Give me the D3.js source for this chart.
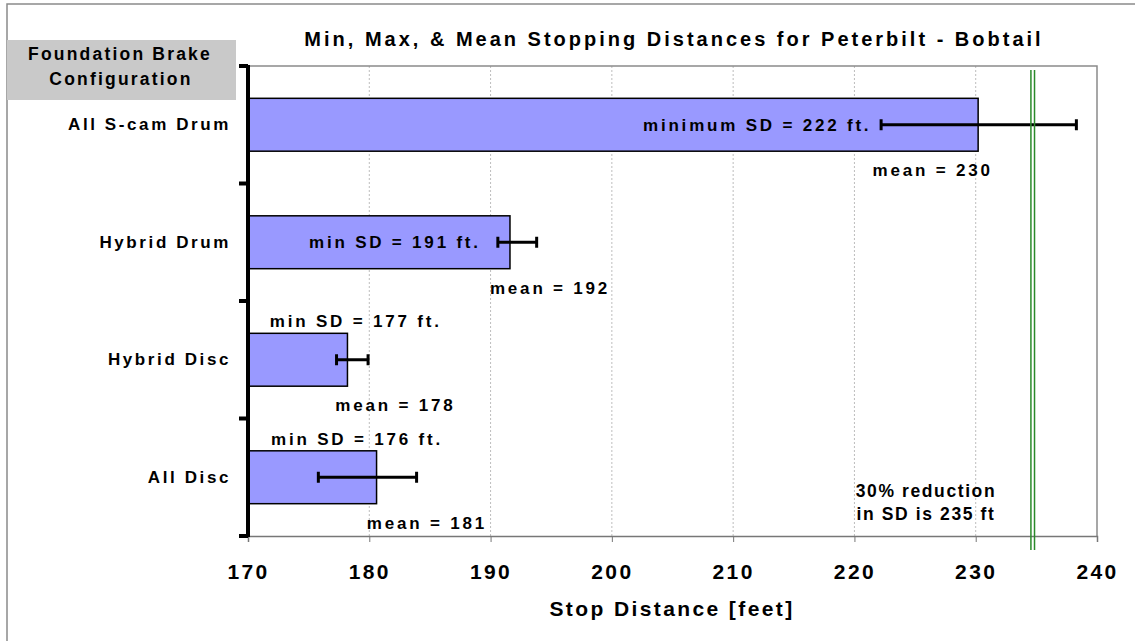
<!DOCTYPE html>
<html>
<head>
<meta charset="utf-8">
<script src="https://cdn.jsdelivr.net/npm/d3@7"></script>
<style>
  html, body { margin: 0; padding: 0; background: #fff; }
  svg { display: block; }
  text { font-family: "Liberation Sans", Arial, sans-serif; font-weight: bold; fill: #000; }
</style>
</head>
<body>
<svg id="chart" width="1135" height="641"></svg>
<script>
// ---- data ----
const categories = ["All S-cam Drum", "Hybrid Drum", "Hybrid Disc", "All Disc"];
const meanValues = [230.2, 191.6, 178.2, 180.6];
const minValues  = [222.2, 190.6, 177.3, 175.8];
const maxValues  = [238.3, 193.8, 179.9, 183.9];
const minLabels  = ["minimum SD = 222 ft.", "min SD = 191 ft.", "min SD = 177 ft.", "min SD = 176 ft."];
const meanLabels = ["mean = 230", "mean = 192", "mean = 178", "mean = 181"];
const xTicks = [170, 180, 190, 200, 210, 220, 230, 240];
const targetValue = 234.7;
const targetLabel = ["30% reduction", "in SD is 235 ft"];
const title = "Min, Max, & Mean Stopping Distances for Peterbilt - Bobtail";
const xTitle = "Stop Distance [feet]";
const yTitle = ["Foundation Brake", "Configuration"];

// label placement (annotation anchors in feet, and where relative to the bar)
const minLabelAt   = [221.4, 189.2, 171.8, 171.9];
const minLabelMode = ["inside-end", "inside-end", "above-start", "above-start"];
const meanLabelAt  = [221.5, 189.95, 177.2, 179.8];

// ---- layout ----
const svg = d3.select("#chart");
const pL = 248, pR = 1097, pT = 66, pB = 536;

const x = d3.scaleLinear().domain([170, 240]).range([pL, pR]);
const y = d3.scaleBand().domain(categories).range([pT, pB])
  .paddingInner(0.55).paddingOuter(0.275);

// outer chart border
svg.append("rect").attr("x", 7).attr("y", 4).attr("width", 1140).attr("height", 650)
  .attr("fill", "none").attr("stroke", "#8a8a8a").attr("stroke-width", 1.5);

// foundation box
svg.append("rect").attr("x", 7).attr("y", 40).attr("width", 229).attr("height", 60)
  .attr("fill", "#c9c9c9");
svg.append("text").attr("x", 120).attr("y", 60).attr("text-anchor", "middle")
  .style("font-size", "17.5px").style("letter-spacing", "2.2px").text(yTitle[0]);
svg.append("text").attr("x", 121).attr("y", 85).attr("text-anchor", "middle")
  .style("font-size", "17.5px").style("letter-spacing", "2.2px").text(yTitle[1]);

// title
svg.append("text").attr("x", 674).attr("y", 46).attr("text-anchor", "middle")
  .style("font-size", "20px").style("letter-spacing", "3px").text(title);

// gridlines
svg.append("g").selectAll("line").data(xTicks.filter(d => d > 170 && d < 240)).join("line")
  .attr("x1", d => x(d)).attr("x2", d => x(d)).attr("y1", pT).attr("y2", pB)
  .attr("stroke", "#bdbdbd").attr("stroke-width", 1).attr("stroke-dasharray", "2,2");

// plot border top & right
svg.append("path")
  .attr("d", `M${pL},${pT}H${pR}V${pB}`)
  .attr("fill", "none").attr("stroke", "#8a8a8a").attr("stroke-width", 1.5);

// x axis
const xAxis = svg.append("g").attr("transform", `translate(0,${pB})`)
  .call(d3.axisBottom(x).tickValues(xTicks).tickSize(6).tickPadding(22).tickFormat(d3.format("d")));
xAxis.select(".domain").attr("stroke", "#777").attr("stroke-width", 1.5);
xAxis.selectAll(".tick line").attr("stroke", "#777").attr("stroke-width", 1);
xAxis.selectAll(".tick text").style("font-size", "21px").style("letter-spacing", "2.4px")
  .style("font-family", "'Liberation Sans', Arial, sans-serif").style("font-weight", "bold")
  .attr("fill", "#000");

svg.append("text").attr("x", 672).attr("y", 616).attr("text-anchor", "middle")
  .style("font-size", "21px").style("letter-spacing", "2.4px").text(xTitle);

// bars
svg.append("g").selectAll("rect").data(categories).join("rect")
  .attr("x", x(170)).attr("y", d => y(d))
  .attr("width", (d, i) => x(meanValues[i]) - x(170))
  .attr("height", y.bandwidth())
  .attr("fill", "#9999ff").attr("stroke", "#000").attr("stroke-width", 1.5);

// error bars
const eb = svg.append("g").selectAll("g").data(categories).join("g");
const cy = d => y(d) + y.bandwidth() / 2;
eb.append("line")
  .attr("x1", (d, i) => x(minValues[i])).attr("x2", (d, i) => x(maxValues[i]))
  .attr("y1", cy).attr("y2", cy)
  .attr("stroke", "#000").attr("stroke-width", 3);
eb.append("line")
  .attr("x1", (d, i) => x(minValues[i])).attr("x2", (d, i) => x(minValues[i]))
  .attr("y1", d => cy(d) - 5.5).attr("y2", d => cy(d) + 5.5)
  .attr("stroke", "#000").attr("stroke-width", 3);
eb.append("line")
  .attr("x1", (d, i) => x(maxValues[i])).attr("x2", (d, i) => x(maxValues[i]))
  .attr("y1", d => cy(d) - 5.5).attr("y2", d => cy(d) + 5.5)
  .attr("stroke", "#000").attr("stroke-width", 3);

// y axis (thick black) with boundary ticks
svg.append("line").attr("x1", pL).attr("x2", pL).attr("y1", pT - 1).attr("y2", pB + 1)
  .attr("stroke", "#000").attr("stroke-width", 4);
const bounds = categories.map(c => y(c) - y.step() * y.paddingInner() / 2).concat([pB]);
svg.append("g").selectAll("line").data(bounds).join("line")
  .attr("x1", pL - 9).attr("x2", pL).attr("y1", d => d).attr("y2", d => d)
  .attr("stroke", "#000").attr("stroke-width", 4);

// category labels
const yAxis = svg.append("g").attr("transform", `translate(${pL},0)`)
  .call(d3.axisLeft(y).tickSize(0).tickPadding(17));
yAxis.select(".domain").remove();
yAxis.selectAll(".tick text").style("font-size", "17px").style("letter-spacing", "2.6px")
  .style("font-family", "'Liberation Sans', Arial, sans-serif").style("font-weight", "bold")
  .attr("fill", "#000");

// target double line
const tx = x(targetValue);
[-1.8, 1.8].forEach(off => {
  svg.append("line").attr("x1", tx + off).attr("x2", tx + off).attr("y1", 70).attr("y2", 550)
    .attr("stroke", "#2a8a2a").attr("stroke-width", 1.5);
});
svg.append("text").attr("x", 926).attr("y", 497).attr("text-anchor", "middle")
  .style("font-size", "17.5px").style("letter-spacing", "1.6px").text(targetLabel[0]);
svg.append("text").attr("x", 926).attr("y", 520).attr("text-anchor", "middle")
  .style("font-size", "17.5px").style("letter-spacing", "1.6px").text(targetLabel[1]);

// min labels
svg.append("g").selectAll("text").data(categories).join("text")
  .attr("x", (d, i) => x(minLabelAt[i]))
  .attr("y", (d, i) => minLabelMode[i] === "inside-end" ? cy(d) + 6 : y(d) - 6)
  .attr("text-anchor", (d, i) => minLabelMode[i] === "inside-end" ? "end" : "start")
  .style("font-size", "17px").style("letter-spacing", "2.8px")
  .text((d, i) => minLabels[i]);

// mean labels
svg.append("g").selectAll("text").data(categories).join("text")
  .attr("x", (d, i) => x(meanLabelAt[i]))
  .attr("y", d => y(d) + y.bandwidth() + 25)
  .attr("text-anchor", "start")
  .style("font-size", "17px").style("letter-spacing", "2.8px")
  .text((d, i) => meanLabels[i]);
</script>
</body>
</html>
